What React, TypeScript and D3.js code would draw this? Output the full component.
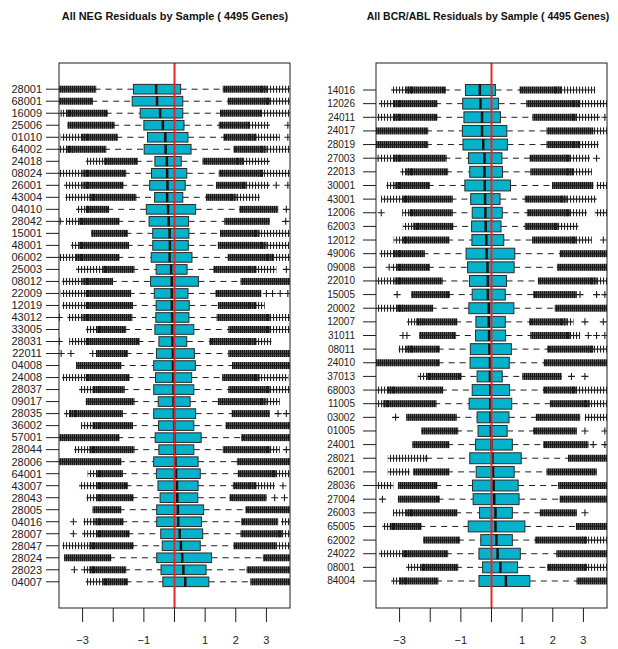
import React from "react";
import * as d3 from "d3";

const W = 618;
const H = 649;

// ---- NEG panel ----
const negLabels = [
  "28001", "68001", "16009", "25006", "01010", "64002", "24018", "08024", "26001", "43004",
  "04010", "28042", "15001", "48001", "06002", "25003", "08012", "22009", "12019", "43012",
  "33005", "28031", "22011", "04008", "24008", "28037", "09017", "28035", "36002", "57001",
  "28044", "28006", "64001", "43007", "28043", "28005", "04016", "28007", "28047", "28024",
  "28023", "04007",
];
const negWhiskerLo = [
  -2.61, -2.72, -2.25, -2.0, -1.9, -2.3, -1.27, -1.65, -1.74, -1.32,
  -2.2, -1.87, -1.6, -1.56, -1.87, -1.38, -2.08, -1.5, -1.43, -1.45,
  -1.65, -1.21, -1.6, -1.82, -1.54, -1.7, -1.38, -1.76, -1.43, -1.87,
  -1.38, -1.82, -1.76, -1.6, -1.41, -1.82, -1.74, -1.54, -1.41, -2.14,
  -1.65, -1.6,
];
const negQ1 = [
  -1.34, -1.38, -1.12, -1.0, -0.88, -0.99, -0.64, -0.75, -0.81, -0.65,
  -0.92, -0.83, -0.71, -0.71, -0.76, -0.6, -0.78, -0.66, -0.6, -0.61,
  -0.64, -0.51, -0.59, -0.68, -0.62, -0.68, -0.53, -0.68, -0.52, -0.63,
  -0.51, -0.68, -0.59, -0.54, -0.47, -0.58, -0.58, -0.45, -0.4, -0.58,
  -0.44, -0.38,
];
const negMedian = [
  -0.6, -0.57, -0.47, -0.38, -0.3, -0.29, -0.25, -0.24, -0.23, -0.24,
  -0.21, -0.19, -0.16, -0.15, -0.16, -0.11, -0.09, -0.09, -0.09, -0.08,
  -0.08, -0.07, -0.05, -0.05, -0.04, -0.03, -0.03, -0.02, -0.01, 0.0,
  0.01, 0.03, 0.05, 0.08, 0.09, 0.11, 0.12, 0.17, 0.21, 0.25,
  0.29, 0.35,
];
const negQ3 = [
  0.2, 0.27, 0.27, 0.31, 0.44, 0.54, 0.22, 0.4, 0.35, 0.27,
  0.69, 0.46, 0.47, 0.45, 0.57, 0.41, 0.78, 0.44, 0.48, 0.47,
  0.63, 0.4, 0.65, 0.68, 0.56, 0.63, 0.51, 0.69, 0.63, 0.87,
  0.63, 0.77, 0.84, 0.77, 0.76, 0.95, 0.88, 0.92, 0.84, 1.21,
  1.03, 1.12,
];
const negWhiskerHi = [
  1.65, 1.82, 1.55, 1.52, 1.66, 2.0, 1.0, 1.52, 1.43, 1.1,
  2.2, 1.7, 1.56, 1.5, 1.82, 1.35, 2.23, 1.42, 1.5, 1.45,
  1.83, 1.21, 1.83, 1.96, 1.63, 1.83, 1.5, 1.95, 1.74, 2.25,
  1.65, 2.1, 2.14, 1.98, 1.87, 2.39, 2.25, 2.23, 2.0, 2.96,
  2.43, 2.55,
];
// outlier runs: [from, to, kind]  kind 2 = dense, 1 = sparse, 0 = single point
const negOutLo = [
  [[-3.8, -2.67, 2]],
  [[-3.7, -2.78, 2]],
  [[-3.7, -3.7, 0], [-3.55, -3.43, 1], [-3.43, -2.29, 2]],
  [[-3.38, -2.07, 2]],
  [[-3.6, -2.94, 1], [-2.91, -1.96, 2]],
  [[-3.8, -3.43, 1], [-3.43, -2.34, 2]],
  [[-2.78, -2.18, 1], [-2.18, -1.31, 2]],
  [[-3.8, -2.89, 1], [-2.89, -1.69, 2]],
  [[-3.49, -2.89, 1], [-2.89, -1.78, 2]],
  [[-3.45, -2.67, 1], [-2.67, -1.36, 2]],
  [[-3.1, -2.78, 1], [-2.78, -2.25, 2]],
  [[-3.73, -3.73, 0], [-3.43, -3.0, 1], [-3.0, -1.91, 2]],
  [[-2.61, -1.63, 2]],
  [[-3.27, -3.0, 1], [-3.0, -1.6, 2]],
  [[-3.65, -3.1, 1], [-3.1, -1.91, 2]],
  [[-3.1, -2.23, 1], [-2.23, -1.42, 2]],
  [[-3.56, -2.89, 1], [-2.89, -2.12, 2]],
  [[-3.6, -2.78, 1], [-2.78, -1.53, 2]],
  [[-3.56, -2.89, 1], [-2.78, -1.47, 2]],
  [[-3.76, -3.76, 0], [-3.38, -2.89, 1], [-2.89, -1.49, 2]],
  [[-2.78, -2.45, 1], [-2.45, -1.69, 2]],
  [[-3.76, -3.76, 0], [-3.32, -2.78, 1], [-2.78, -1.25, 2]],
  [[-3.7, -3.7, 0], [-3.38, -3.38, 0], [-2.67, -2.67, 0], [-2.45, -1.63, 2]],
  [[-3.1, -1.85, 2]],
  [[-3.56, -2.78, 1], [-2.78, -1.58, 2]],
  [[-3.0, -2.56, 1], [-2.56, -1.74, 2]],
  [[-2.78, -1.42, 2]],
  [[-3.49, -3.3, 1], [-3.3, -1.8, 2]],
  [[-2.94, -2.56, 1], [-2.56, -1.47, 2]],
  [[-3.65, -1.91, 2]],
  [[-3.16, -2.67, 1], [-2.67, -1.42, 2]],
  [[-3.8, -1.85, 2]],
  [[-2.72, -2.45, 1], [-2.45, -1.8, 2]],
  [[-3.0, -2.45, 1], [-2.45, -1.63, 2]],
  [[-2.76, -2.45, 1], [-2.45, -1.45, 2]],
  [[-2.56, -1.85, 2]],
  [[-3.3, -3.3, 0], [-2.86, -2.5, 1], [-2.5, -1.78, 2]],
  [[-3.3, -3.3, 0], [-2.9, -2.45, 1], [-2.45, -1.58, 2]],
  [[-3.56, -2.67, 1], [-2.67, -1.45, 2]],
  [[-3.49, -2.18, 2]],
  [[-3.27, -3.27, 0], [-2.94, -2.94, 0], [-2.78, -2.67, 1], [-2.67, -1.69, 2]],
  [[-2.78, -2.23, 1], [-2.23, -1.63, 2]],
];
const negOutHi = [
  [[1.69, 2.9, 2], [2.9, 3.8, 1]],
  [[1.85, 3.0, 2], [3.0, 3.8, 1]],
  [[1.6, 2.72, 2], [2.9, 3.8, 1]],
  [[1.56, 2.34, 2], [2.4, 3.0, 1], [3.7, 3.7, 0]],
  [[1.71, 2.56, 2], [2.56, 3.32, 1], [3.7, 3.7, 0]],
  [[2.04, 2.89, 2], [2.94, 3.8, 1]],
  [[1.03, 2.12, 2], [2.12, 3.0, 1]],
  [[1.56, 2.78, 2], [2.78, 3.8, 1]],
  [[1.47, 2.23, 2], [2.23, 3.0, 1], [3.32, 3.32, 0], [3.7, 3.7, 0]],
  [[1.14, 1.91, 2], [1.91, 2.67, 1]],
  [[2.23, 3.27, 2], [3.65, 3.65, 0]],
  [[1.74, 3.0, 2], [3.63, 3.63, 0]],
  [[1.6, 2.67, 2], [2.67, 3.8, 1]],
  [[1.53, 2.89, 2], [2.89, 3.63, 1]],
  [[1.85, 3.1, 2], [3.1, 3.8, 1]],
  [[1.38, 2.56, 2], [2.56, 3.21, 1], [3.65, 3.65, 0]],
  [[2.27, 3.8, 2]],
  [[1.45, 2.72, 2], [3.0, 3.0, 0], [3.2, 3.2, 0], [3.45, 3.45, 0], [3.7, 3.7, 0]],
  [[1.53, 2.56, 2], [2.56, 2.83, 1]],
  [[1.49, 3.0, 2], [3.0, 3.8, 1]],
  [[1.87, 3.0, 2], [3.0, 3.8, 1]],
  [[1.25, 2.56, 2], [2.56, 3.05, 1]],
  [[1.87, 3.8, 2]],
  [[1.99, 3.8, 2]],
  [[1.67, 2.67, 2], [2.67, 3.6, 1]],
  [[1.87, 3.0, 2], [3.0, 3.8, 1]],
  [[1.53, 2.89, 2], [2.89, 3.32, 1]],
  [[1.98, 3.0, 2], [3.38, 3.38, 0], [3.65, 3.65, 0]],
  [[1.78, 3.8, 2]],
  [[2.29, 3.8, 2]],
  [[1.69, 3.0, 2], [3.0, 3.32, 1], [3.65, 3.65, 0]],
  [[2.15, 3.8, 2]],
  [[2.18, 3.21, 2], [3.21, 3.8, 1]],
  [[2.02, 2.56, 2], [2.56, 3.16, 1], [3.54, 3.54, 0]],
  [[1.91, 2.89, 2], [3.27, 3.27, 0], [3.59, 3.59, 0]],
  [[2.43, 3.8, 2]],
  [[2.29, 3.27, 2], [3.59, 3.8, 1]],
  [[2.27, 3.43, 2], [3.43, 3.8, 1]],
  [[2.04, 3.21, 2], [3.43, 3.8, 1]],
  [[3.0, 3.8, 2]],
  [[2.47, 3.8, 2]],
  [[2.59, 3.8, 2]],
];

// ---- BCR/ABL panel ----
const bcrLabels = [
  "14016", "12026", "24011", "24017", "28019", "27003", "22013", "30001", "43001", "12006",
  "62003", "12012", "49006", "09008", "22010", "15005", "20002", "12007", "31011", "08011",
  "24010", "37013", "68003", "11005", "03002", "01005", "24001", "28021", "62001", "28036",
  "27004", "26003", "65005", "62002", "24022", "08001", "84004",
];
const bcrWhiskerLo = [
  -1.56, -1.84, -1.84, -2.14, -2.14, -1.54, -1.49, -2.08, -1.34, -1.34,
  -1.32, -1.45, -2.25, -2.08, -1.67, -1.43, -1.98, -1.19, -1.23, -1.76,
  -1.76, -1.05, -1.65, -1.87, -1.21, -1.16, -1.45, -2.14, -1.45, -1.84,
  -1.76, -1.19, -2.36, -1.1, -1.49, -1.16, -1.81,
];
const bcrQ1 = [
  -0.85, -0.94, -0.9, -0.95, -0.93, -0.75, -0.71, -0.87, -0.68, -0.63,
  -0.65, -0.64, -0.83, -0.78, -0.72, -0.63, -0.74, -0.51, -0.52, -0.69,
  -0.7, -0.47, -0.63, -0.73, -0.47, -0.44, -0.52, -0.71, -0.5, -0.62,
  -0.6, -0.39, -0.76, -0.35, -0.41, -0.29, -0.41,
];
const bcrMedian = [
  -0.38, -0.36, -0.31, -0.31, -0.27, -0.23, -0.23, -0.22, -0.21, -0.2,
  -0.19, -0.17, -0.16, -0.13, -0.12, -0.12, -0.09, -0.09, -0.08, -0.07,
  -0.05, -0.05, -0.04, -0.04, -0.03, -0.02, 0.0, 0.03, 0.05, 0.07,
  0.09, 0.13, 0.13, 0.16, 0.2, 0.29, 0.47,
];
const bcrQ3 = [
  0.13, 0.23, 0.29, 0.5, 0.52, 0.34, 0.36, 0.62, 0.28, 0.35,
  0.31, 0.4, 0.76, 0.74, 0.49, 0.45, 0.73, 0.45, 0.46, 0.65,
  0.58, 0.35, 0.59, 0.66, 0.57, 0.51, 0.68, 0.97, 0.74, 0.87,
  0.9, 0.68, 1.09, 0.68, 0.94, 0.85, 1.25,
];
const bcrWhiskerHi = [
  1.0, 1.21, 1.41, 1.87, 1.87, 1.32, 1.34, 2.05, 1.16, 1.23,
  1.16, 1.4, 2.3, 2.2, 1.59, 1.43, 2.14, 1.3, 1.34, 1.89,
  1.78, 1.08, 1.76, 1.98, 1.52, 1.43, 1.76, 2.57, 1.87, 2.25,
  2.3, 1.65, 2.83, 1.49, 2.19, 1.89, 2.85,
];
const bcrOutLo = [
  [[-3.16, -2.67, 1], [-2.67, -1.6, 2]],
  [[-3.56, -3.1, 1], [-3.1, -1.88, 2]],
  [[-3.63, -3.1, 1], [-3.1, -1.88, 2]],
  [[-3.8, -2.18, 2]],
  [[-3.67, -2.18, 2]],
  [[-3.7, -3.7, 0], [-3.54, -3.1, 1], [-3.1, -1.58, 2]],
  [[-2.86, -2.67, 1], [-2.67, -1.53, 2]],
  [[-3.32, -3.05, 1], [-3.05, -2.12, 2]],
  [[-3.49, -2.78, 1], [-2.78, -1.38, 2]],
  [[-3.6, -3.6, 0], [-2.8, -2.56, 1], [-2.56, -1.38, 2]],
  [[-2.78, -2.45, 1], [-2.45, -1.36, 2]],
  [[-3.08, -2.78, 1], [-2.78, -1.49, 2]],
  [[-3.54, -3.1, 1], [-3.1, -2.29, 2]],
  [[-3.34, -3.34, 0], [-3.16, -3.0, 1], [-3.0, -2.12, 2]],
  [[-3.7, -3.05, 1], [-3.05, -1.71, 2]],
  [[-3.08, -3.08, 0], [-2.51, -1.47, 2]],
  [[-3.7, -3.0, 1], [-3.0, -2.02, 2]],
  [[-2.65, -2.34, 1], [-2.34, -1.23, 2]],
  [[-2.89, -2.89, 0], [-2.76, -2.76, 0], [-2.25, -1.27, 2]],
  [[-2.92, -2.67, 1], [-2.67, -1.8, 2]],
  [[-3.8, -1.8, 2]],
  [[-2.29, -2.02, 1], [-2.02, -1.09, 2]],
  [[-3.67, -3.27, 1], [-3.27, -1.69, 2]],
  [[-3.8, -3.43, 1], [-3.43, -1.91, 2]],
  [[-3.13, -3.13, 0], [-2.67, -1.25, 2]],
  [[-2.18, -1.2, 2]],
  [[-2.47, -1.49, 2]],
  [[-3.27, -2.18, 1]],
  [[-3.27, -2.78, 1], [-2.45, -1.49, 2]],
  [[-3.7, -3.32, 1], [-2.94, -1.88, 2]],
  [[-3.56, -3.56, 0], [-2.94, -1.8, 2]],
  [[-3.1, -2.67, 1], [-2.67, -1.23, 2]],
  [[-3.45, -3.21, 1], [-3.21, -2.4, 2]],
  [[-2.12, -1.14, 2]],
  [[-3.56, -2.78, 1], [-2.78, -1.53, 2]],
  [[-2.67, -2.18, 1], [-2.18, -1.2, 2]],
  [[-3.16, -2.89, 1], [-2.89, -1.85, 2]],
];
const bcrOutHi = [
  [[1.03, 2.18, 2], [2.18, 3.27, 1]],
  [[1.25, 2.78, 2], [2.78, 3.65, 1]],
  [[1.45, 2.67, 2], [2.67, 3.43, 1], [3.7, 3.7, 0]],
  [[1.91, 3.21, 2], [3.43, 3.8, 1]],
  [[1.91, 2.78, 2], [2.78, 3.38, 1]],
  [[1.36, 2.45, 2], [2.45, 3.1, 1], [3.43, 3.43, 0]],
  [[1.38, 2.56, 2], [2.56, 3.16, 1]],
  [[2.09, 3.21, 2], [3.54, 3.8, 1]],
  [[1.2, 2.34, 2], [2.34, 3.32, 1]],
  [[1.27, 2.45, 2], [2.45, 3.0, 1], [3.49, 3.8, 1]],
  [[1.2, 2.07, 2], [2.07, 2.72, 1]],
  [[1.44, 2.67, 2], [2.67, 3.16, 1], [3.65, 3.65, 0]],
  [[2.34, 3.8, 2]],
  [[2.25, 3.8, 2]],
  [[1.63, 3.32, 2], [3.32, 3.8, 1]],
  [[1.47, 2.67, 2], [2.89, 2.89, 0], [3.43, 3.43, 0], [3.7, 3.7, 0]],
  [[2.18, 3.8, 2]],
  [[1.34, 2.34, 2], [2.34, 2.56, 1], [3.05, 3.05, 0], [3.65, 3.65, 0]],
  [[1.38, 2.45, 2], [2.45, 2.78, 1], [3.16, 3.16, 0], [3.43, 3.43, 0], [3.7, 3.7, 0]],
  [[1.93, 3.21, 2], [3.21, 3.8, 1]],
  [[1.82, 3.8, 2]],
  [[1.12, 2.18, 2], [2.61, 2.61, 0], [3.05, 3.05, 0]],
  [[1.8, 2.67, 2], [2.67, 3.8, 1]],
  [[2.02, 3.1, 2], [3.1, 3.8, 1]],
  [[1.56, 2.78, 2], [3.16, 3.8, 1]],
  [[1.47, 2.67, 2], [3.05, 3.05, 0], [3.7, 3.7, 0]],
  [[1.8, 3.05, 2], [3.32, 3.32, 0], [3.7, 3.7, 0]],
  [[2.61, 3.8, 2]],
  [[1.91, 3.32, 2]],
  [[2.29, 3.8, 2]],
  [[2.34, 3.8, 2]],
  [[1.69, 2.67, 2], [3.05, 3.05, 0]],
  [[2.87, 3.8, 2]],
  [[1.53, 3.0, 2], [3.0, 3.8, 1]],
  [[2.23, 3.8, 2]],
  [[1.93, 3.0, 2], [3.1, 3.8, 1]],
  [[2.89, 3.8, 2]],
];

const xTicks = [-3, -2, -1, 0, 1, 2, 3];
const xTickLabels = ["\u22123", "", "\u22121", "", "1", "2", "3"];
const xLimit = 3.77;

const FONT = "'Liberation Sans', Arial, Helvetica, sans-serif";
const BOX_FILL = "#05b2cc";
const INK = "#1e1e1e";

function BoxPanel(props) {
  const {
    id, title, titleSize, titleX, labels, wlo, q1, med, q3, whi, outLo, outHi,
    left, right, labelSize, labelEnd,
  } = props;
  const top = 63;
  const bottom = 608;
  const n = labels.length;

  const x = d3.scaleLinear().domain([-xLimit, xLimit]).range([left, right]);
  // R style: positions 1..n, 4% padding on each side
  const pad = 0.04 * n;
  const y = d3.scaleLinear().domain([0.5 - pad, n + 0.5 + pad]).range([bottom, top]);
  const rowY = (i) => y(n - i);
  const halfBox = y(0) - y(0.4);
  const halfStaple = y(0) - y(0.2);
  const arm = 3.5;

  const runs = (list, cy, key) =>
    list.map(([a, b, k], j) => {
      const xa = x(a);
      const xb = x(b);
      if (k === 0) {
        return (
          <path
            key={key + j}
            d={`M${xa - arm},${cy}H${xa + arm}M${xa},${cy - arm}V${cy + arm}`}
            stroke={INK}
            strokeWidth={1.1}
          />
        );
      }
      return (
        <g key={key + j}>
          <rect
            x={xa - arm}
            y={cy - arm}
            width={xb - xa + 2 * arm}
            height={2 * arm}
            fill={`url(#${k === 2 ? "dense" : "sparse"})`}
          />
          <line x1={xa - arm} x2={xb + arm} y1={cy} y2={cy} stroke={INK} strokeWidth={1.2} />
        </g>
      );
    });

  return (
    <g>
      <clipPath id={`clip-${id}`}>
        <rect x={left} y={top} width={right - left} height={bottom - top} />
      </clipPath>
      <text
        x={titleX}
        y={20}
        textAnchor="middle"
        fontWeight="bold"
        fontSize={titleSize}
        fill="#111"
      >
        {title}
      </text>

      <g clipPath={`url(#clip-${id})`}>
        {labels.map((lab, i) => {
          const cy = rowY(i);
          return (
            <g key={lab + i}>
              {runs(outLo[i], cy, "lo")}
              {runs(outHi[i], cy, "hi")}
              <line x1={x(wlo[i])} x2={x(q1[i])} y1={cy} y2={cy} stroke={INK} strokeDasharray="6,5" />
              <line x1={x(q3[i])} x2={x(whi[i])} y1={cy} y2={cy} stroke={INK} strokeDasharray="6,5" />
              <line x1={x(wlo[i])} x2={x(wlo[i])} y1={cy - halfStaple} y2={cy + halfStaple} stroke={INK} />
              <line x1={x(whi[i])} x2={x(whi[i])} y1={cy - halfStaple} y2={cy + halfStaple} stroke={INK} />
              <rect
                x={x(q1[i])}
                y={cy - halfBox}
                width={x(q3[i]) - x(q1[i])}
                height={2 * halfBox}
                fill={BOX_FILL}
                stroke="#2a2a2a"
                strokeWidth={1}
              />
              <line
                x1={x(med[i])}
                x2={x(med[i])}
                y1={cy - halfBox}
                y2={cy + halfBox}
                stroke="#111"
                strokeWidth={2.5}
              />
            </g>
          );
        })}
        <line x1={x(0)} x2={x(0)} y1={top} y2={bottom} stroke="#e8262c" strokeWidth={2} />
      </g>

      <rect x={left} y={top} width={right - left} height={bottom - top} fill="none" stroke={INK} strokeWidth={1} />

      {labels.map((lab, i) => (
        <g key={"t" + i}>
          <line x1={left - 13} x2={left} y1={rowY(i)} y2={rowY(i)} stroke={INK} />
          <text
            x={labelEnd}
            y={rowY(i)}
            dy="0.35em"
            textAnchor="end"
            fontSize={labelSize}
            fill="#222"
          >
            {lab}
          </text>
        </g>
      ))}

      {xTicks.map((t, i) => (
        <g key={"x" + t}>
          <line x1={x(t)} x2={x(t)} y1={bottom} y2={bottom + 14} stroke={INK} />
          <text x={x(t)} y={644} textAnchor="middle" fontSize={11} fill="#222">
            {xTickLabels[i]}
          </text>
        </g>
      ))}
    </g>
  );
}

export default function App() {
  return (
    <svg
      width={W}
      height={H}
      style={{ position: "absolute", left: 0, top: 0, background: "#fff" }}
      fontFamily={FONT}
    >
      <defs>
        <pattern id="dense" width={2} height={2} patternUnits="userSpaceOnUse">
          <rect x={0} y={0} width={1.7} height={2} fill="#151515" />
        </pattern>
        <pattern id="sparse" width={3} height={2} patternUnits="userSpaceOnUse">
          <rect x={0} y={0} width={1.1} height={2} fill="#222" />
        </pattern>
      </defs>
      <rect width={W} height={H} fill="#fff" />
      <BoxPanel
        id="neg"
        title="All NEG Residuals by Sample ( 4495 Genes)"
        titleSize={10.9}
        titleX={175}
        labels={negLabels}
        wlo={negWhiskerLo}
        q1={negQ1}
        med={negMedian}
        q3={negQ3}
        whi={negWhiskerHi}
        outLo={negOutLo}
        outHi={negOutHi}
        left={59}
        right={290}
        labelSize={11}
        labelEnd={42}
      />
      <BoxPanel
        id="bcr"
        title="All BCR/ABL Residuals by Sample ( 4495 Genes)"
        titleSize={10.5}
        titleX={488}
        labels={bcrLabels}
        wlo={bcrWhiskerLo}
        q1={bcrQ1}
        med={bcrMedian}
        q3={bcrQ3}
        whi={bcrWhiskerHi}
        outLo={bcrOutLo}
        outHi={bcrOutHi}
        left={376}
        right={607}
        labelSize={10}
        labelEnd={355}
      />
    </svg>
  );
}
